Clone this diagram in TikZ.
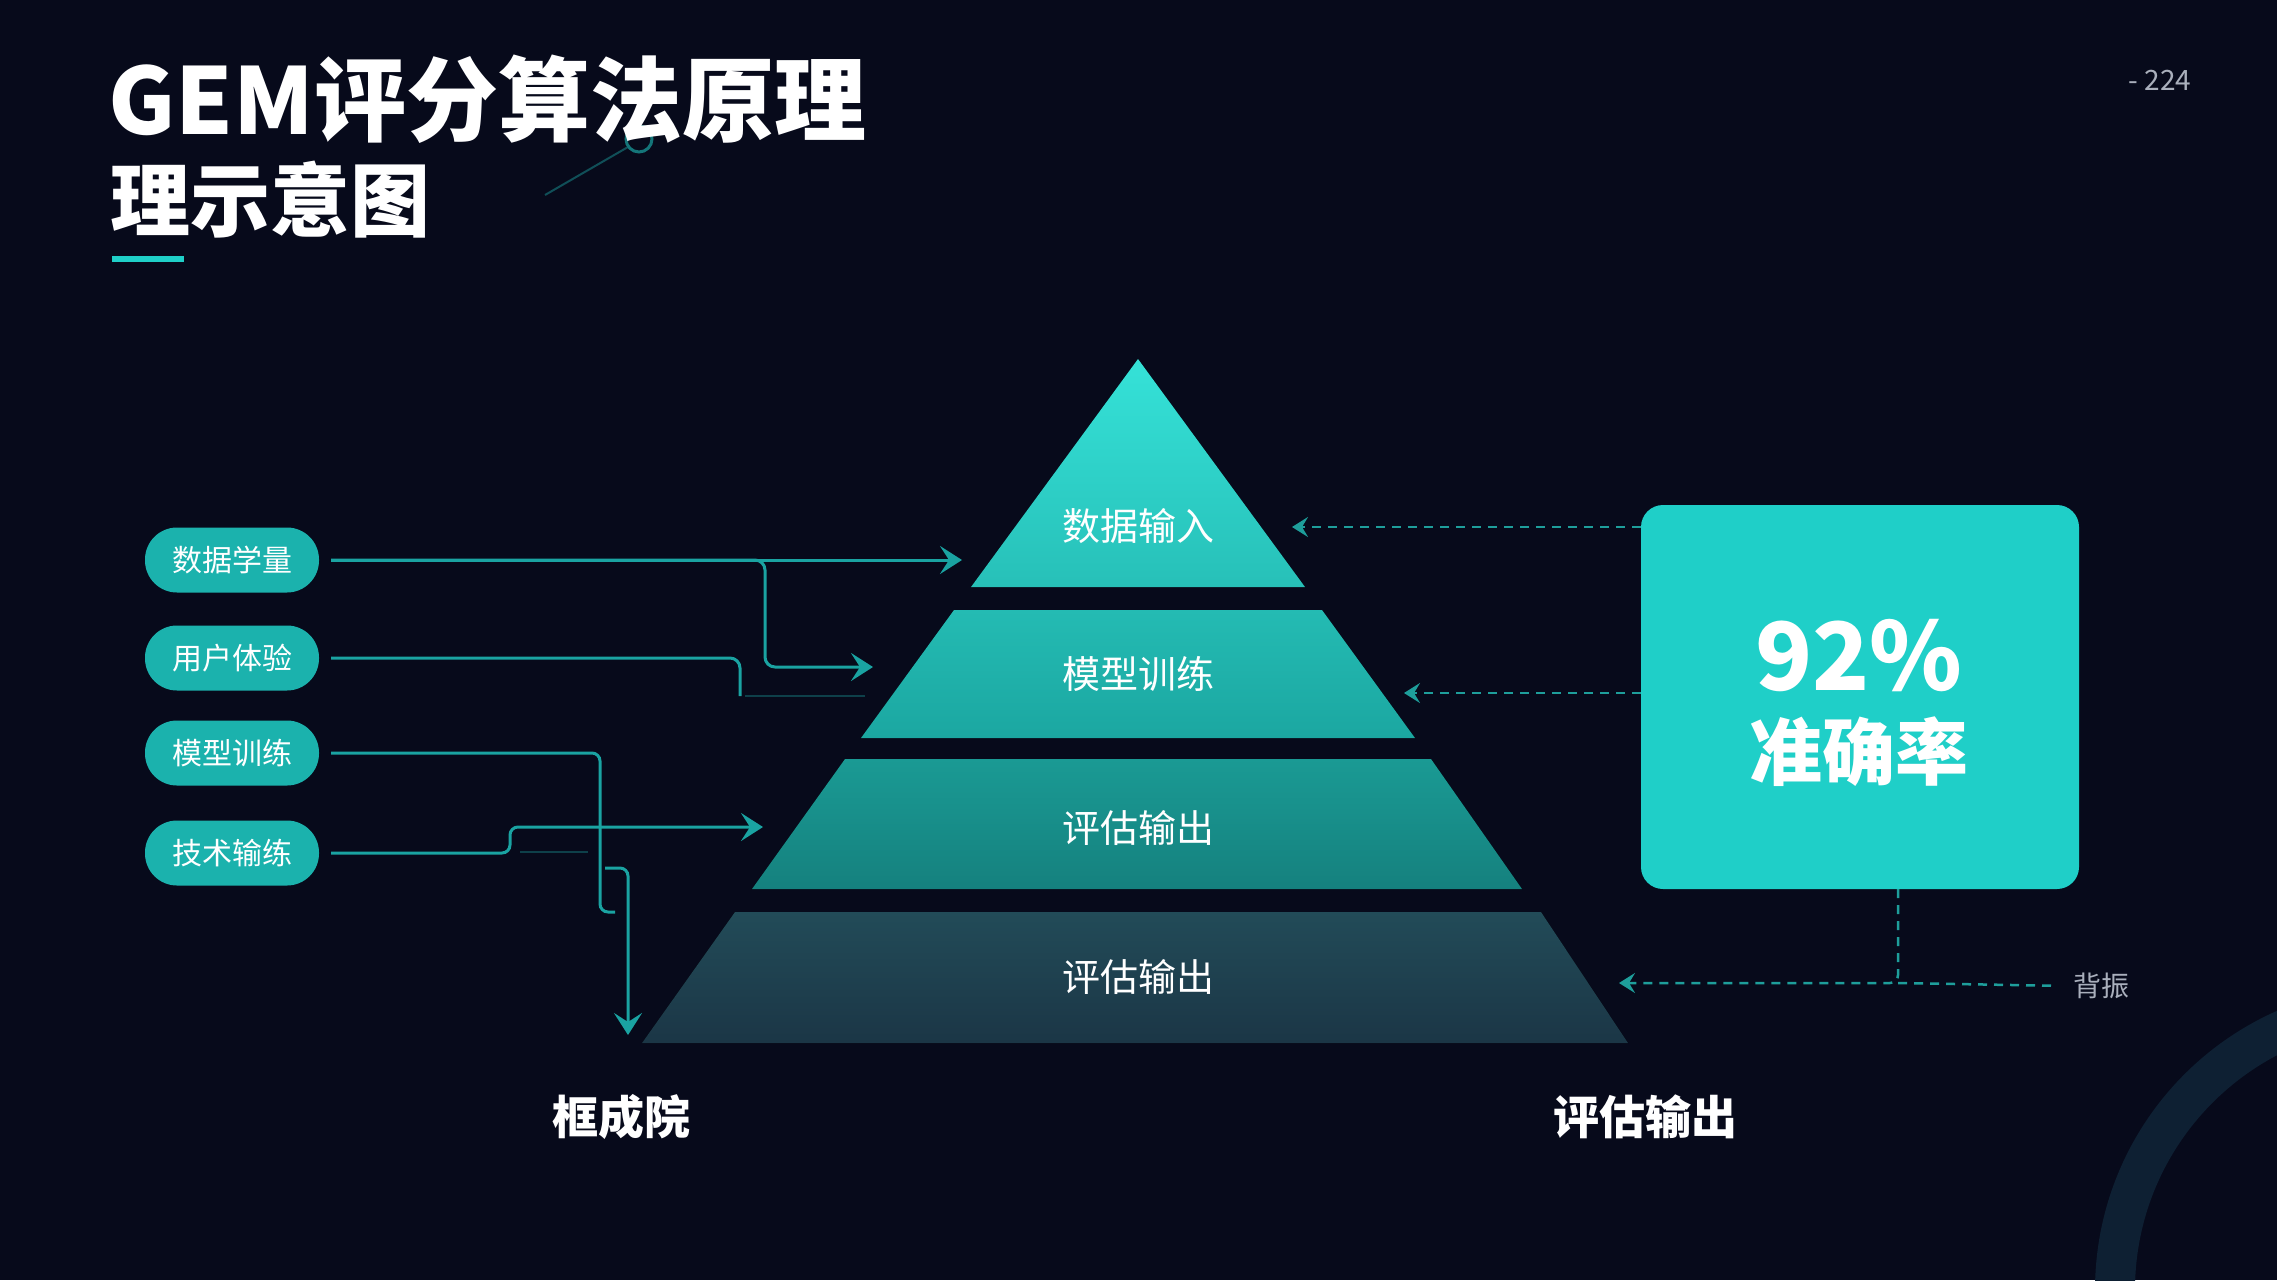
\documentclass[tikz,border=0pt]{standalone}
\usepackage{fontspec}
\setmainfont{Noto Sans CJK SC}
\usetikzlibrary{arrows.meta}
\definecolor{bgnavy}{HTML}{070A1B}
\definecolor{linecol}{HTML}{1AA3A2}
\definecolor{dashcol}{HTML}{1E9E9B}
\definecolor{pillcol}{HTML}{1BB2AD}
\definecolor{boxcol}{HTML}{1FCFC8}
\definecolor{ringcol}{HTML}{0E2033}
\definecolor{greytxt}{HTML}{A9AFBC}
\definecolor{tierAtop}{HTML}{35E2D8}
\definecolor{tierAbot}{HTML}{27C0B8}
\definecolor{tierBtop}{HTML}{24BBB3}
\definecolor{tierBbot}{HTML}{1BA7A1}
\definecolor{tierCtop}{HTML}{1A9A94}
\definecolor{tierCbot}{HTML}{15817E}
\definecolor{tierDtop}{HTML}{224B58}
\definecolor{tierDbot}{HTML}{1B3646}
\tikzset{
  conn/.style={draw=linecol,line width=3pt},
  faint/.style={draw=linecol!35!bgnavy,line width=2.5pt},
  tip/.style={-{Stealth[length=22pt,width=28pt,inset=9pt]}},
  dashconn/.style={draw=dashcol,line width=2.5pt,dash pattern=on 9pt off 7pt},
  pill/.style={fill=pillcol,rounded corners=32pt,minimum width=174pt,minimum height=65pt,
    text=white,font=\fontsize{30}{30}\selectfont},
  tierlab/.style={text=white,font=\fontsize{38}{38}\selectfont},
  footlab/.style={text=white,font=\bfseries\fontsize{46}{46}\selectfont}
}
\begin{document}
\begin{tikzpicture}[x=1pt,y=-1pt]
\useasboundingbox (0,0) rectangle (2277,1280);
\fill[bgnavy] (0,0) rectangle (2277,1280);
\begin{scope}
\clip (0,0) rectangle (2277,1280);
\draw[ringcol,line width=40pt] (2400,1290) circle[radius=285];
\end{scope}
\draw[linecol!45!bgnavy,line width=2pt] (545,195) -- (628,147);
\draw[linecol!70!bgnavy,line width=3pt] (639,139) circle[radius=13];
\node[anchor=west,inner sep=0,text=white,font=\bfseries\fontsize{92}{92}\selectfont] (title) at (108,99) {GEM评分算法原理};
\node[anchor=west,inner sep=0,text=white,font=\bfseries\fontsize{80}{80}\selectfont] (subtitle) at (110,200) {理示意图};
\fill[boxcol] (112,256) rectangle (184,262);
\node[text=greytxt,font=\fontsize{28}{28}\selectfont] (pageno) at (2160,80) {- 224};
% pyramid
\fill[top color=tierAtop,bottom color=tierAbot] (1138,359) -- (1305,587) -- (971,587) -- cycle;
\fill[top color=tierBtop,bottom color=tierBbot] (954,610) -- (1322,610) -- (1415,738) -- (861,738) -- cycle;
\fill[top color=tierCtop,bottom color=tierCbot] (845,759) -- (1431,759) -- (1522,889) -- (752,889) -- cycle;
\fill[top color=tierDtop,bottom color=tierDbot] (735,912) -- (1541,912) -- (1628,1043) -- (642,1043) -- cycle;
\node[tierlab] (t1) at (1138,526) {数据输入};
\node[tierlab] (t2) at (1138,674) {模型训练};
\node[tierlab] (t3) at (1138,828) {评估输出};
\node[tierlab] (t4) at (1138,977) {评估输出};
% left inputs
\node[pill] (p1) at (232,560) {数据学量};
\node[pill] (p2) at (232,658) {用户体验};
\node[pill] (p3) at (232,753) {模型训练};
\node[pill] (p4) at (232,853) {技术输练};
\coordinate (a1) at (962,560);
\coordinate (a2) at (873,667);
\coordinate (a3) at (763,827);
\coordinate (a4) at (628,1035);
\coordinate (d0) at (605,868);
\draw[conn,tip,shorten <=12pt] (p1.east) -- (a1);
\draw[conn,tip,shorten <=12pt,rounded corners=10pt] (p1.east) -| (765,667) -- (a2);
\draw[conn,shorten <=12pt,rounded corners=10pt] (p2.east) -| (740,696);
\draw[faint] (745,696) -- (865,696);
\draw[conn,shorten <=12pt,rounded corners=8pt] (p3.east) -| (600,912) -- (615,912);
\draw[conn,tip,shorten <=12pt,rounded corners=8pt] (p4.east) -| (510,827) -- (a3);
\draw[faint] (520,852) -- (588,852);
\draw[conn,tip,rounded corners=8pt] (d0) -| (a4);
% right side
\node[fill=boxcol,rounded corners=22pt,minimum width=438pt,minimum height=384pt] (box) at (1860,697) {};
\node[text=white,font=\bfseries\fontsize{94}{94}\selectfont] (pct) at (1859,656) {92\%};
\node[text=white,font=\bfseries\fontsize{73}{73}\selectfont] (acc) at (1859,752) {准确率};
\node[text=greytxt,font=\fontsize{28}{28}\selectfont] (note) at (2101,986) {背振};
\coordinate (e1) at (1292,527);
\coordinate (e2) at (1404,693);
\coordinate (e3) at (1619,983);
\coordinate (k) at (1898,983);
\draw[dashconn,-{Stealth[length=16pt,width=20pt,inset=6pt]}] (box.west |- e1) -- (e1);
\draw[dashconn,-{Stealth[length=16pt,width=20pt,inset=6pt]}] (box.west |- e2) -- (e2);
\draw[dashconn,-{Stealth[length=16pt,width=20pt,inset=6pt]},rounded corners=8pt] (box.south -| k) -- (k) -- (e3);
\draw[dashconn,shorten >=14pt] (k) -- (note.west);
\node[footlab] (f1) at (621,1117) {框成院};
\node[footlab] (f2) at (1645,1117) {评估输出};
\end{tikzpicture}
\end{document}
